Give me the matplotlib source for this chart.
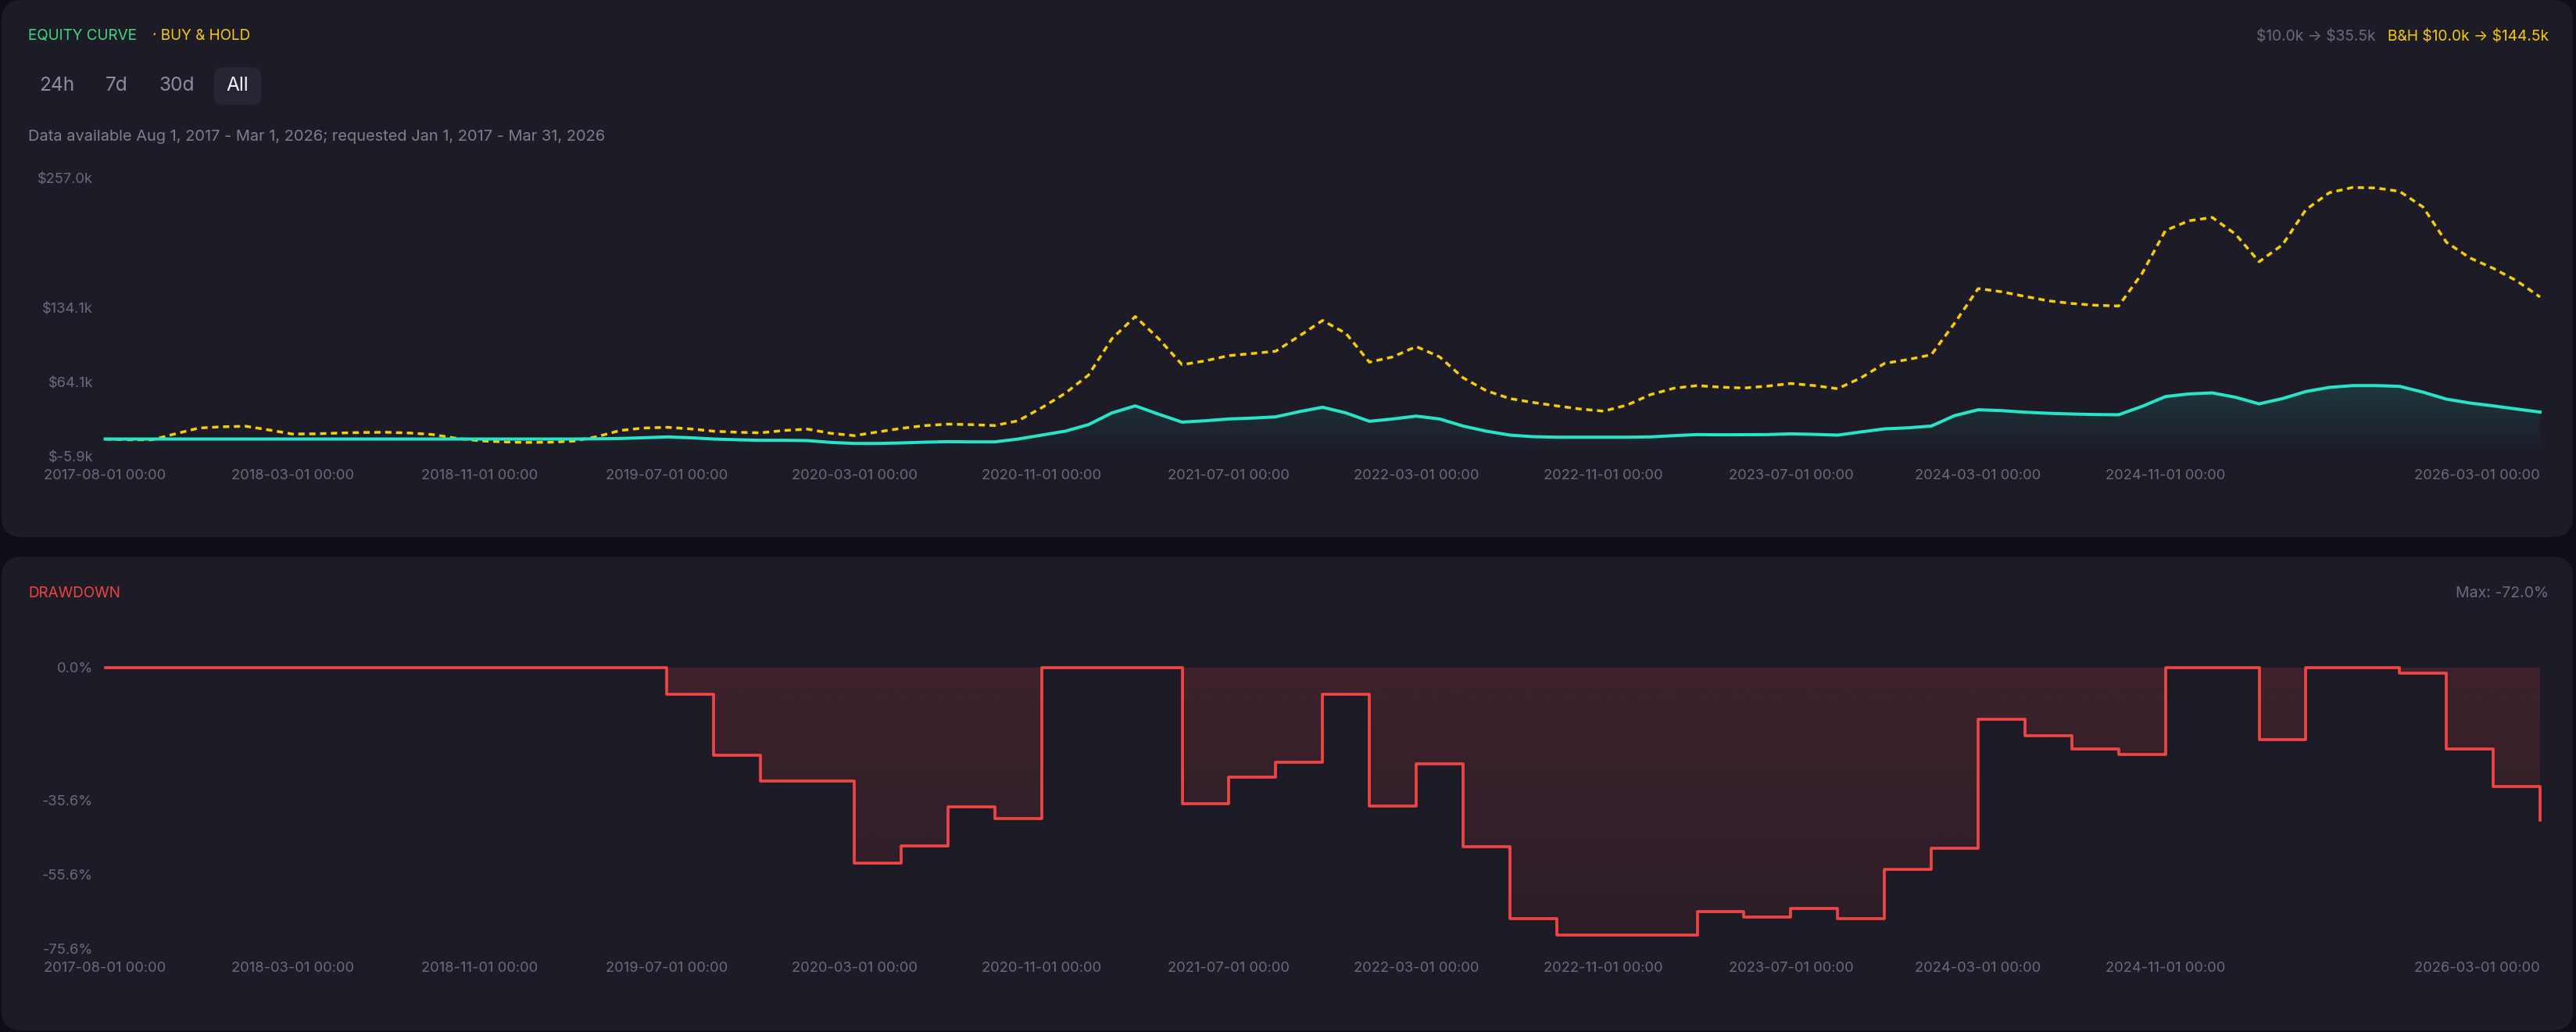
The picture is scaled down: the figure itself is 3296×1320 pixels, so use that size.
# Equity curve vs buy & hold, with drawdown panel (dark dashboard look)

import numpy as np
import matplotlib
matplotlib.use('Agg')
import matplotlib.pyplot as plt
from matplotlib.patches import FancyBboxPatch
from matplotlib.colors import to_rgb

# Chart values (one point per bar on the time axis, 105 bars)
equity = [10.0] * 21 + [
    10.2, 10.5, 11.2, 12.0, 11.2, 10.0, 9.3, 8.8, 8.8, 8.5,
    6.8, 5.8, 5.8, 6.3, 7.0, 7.5, 7.3, 7.3, 10.0, 13.7,
    17.4, 23.6, 34.7, 41.4, 33.5, 26.0, 27.3, 29.0, 29.8, 31.0,
    35.9, 40.1, 34.7, 26.8, 29.0, 31.7, 29.0, 22.3, 17.4, 13.7,
    12.2, 11.7, 11.7, 11.7, 11.7, 12.0, 13.2, 14.2, 14.0, 14.1,
    14.2, 14.9, 14.4, 13.7, 16.7, 19.6, 20.6, 22.3, 32.2, 37.7,
    36.9, 35.4, 34.4, 33.7, 33.2, 33.0, 40.9, 50.2, 52.7, 53.7,
    49.5, 43.3, 48.3, 55.0, 58.9, 60.6, 60.6, 59.9, 54.4, 47.8,
    44.1, 41.4, 38.4, 35.5]

buy_hold = [
    10.0, 9.3, 9.3, 14.9, 20.4, 21.6, 22.1, 18.6, 14.7, 14.9,
    15.7, 16.2, 16.4, 15.7, 14.2, 10.7, 8.3, 7.3, 6.8, 7.0,
    8.0, 12.2, 18.1, 20.4, 21.1, 19.6, 17.4, 16.4, 15.9, 18.1,
    19.4, 15.4, 13.2, 16.7, 20.1, 22.7, 24.1, 23.6, 22.8, 27.3,
    39.6, 53.2, 70.5, 105.0, 126.0, 105.0, 80.4, 84.1, 89.0, 91.0,
    93.2, 107.5, 122.3, 110.0, 82.8, 87.8, 97.6, 87.8, 68.0, 55.7,
    48.3, 44.6, 41.4, 38.4, 36.4, 42.1, 52.0, 58.1, 60.6, 59.1,
    58.3, 60.1, 62.6, 60.6, 57.7, 68.0, 81.6, 85.3, 89.8, 119.9,
    152.5, 149.5, 145.1, 140.9, 138.4, 136.7, 136.0, 166.8, 207.5, 216.7,
    219.9, 203.9, 177.9, 194.0, 227.3, 243.3, 248.3, 247.8, 244.6, 229.8,
    196.4, 181.6, 171.7, 159.9, 144.5]

# drawdown is sampled on every second bar
drawdown = [0.0] * 12 + [
    -7.2, -23.6, -30.6, -30.6, -52.6, -48.0, -37.5, -40.6, 0.0, 0.0,
    0.0, -36.7, -29.5, -25.5, -7.2, -37.3, -25.9, -48.2, -67.6, -72.0,
    -72.0, -72.0, -65.7, -67.2, -64.8, -67.6, -54.4, -48.6, -13.8, -18.4,
    -21.8, -23.4, 0.0, 0.0, -19.4, 0.0, 0.0, -1.4, -21.9, -32.0,
    -41.0]

tick_bars = [0, 8, 16, 24, 32, 40, 48, 56, 64, 72, 80, 88, 104]
tick_labels = ['2017-08-01 00:00', '2018-03-01 00:00', '2018-11-01 00:00',
               '2019-07-01 00:00', '2020-03-01 00:00', '2020-11-01 00:00',
               '2021-07-01 00:00', '2022-03-01 00:00', '2022-11-01 00:00',
               '2023-07-01 00:00', '2024-03-01 00:00', '2024-11-01 00:00',
               '2026-03-01 00:00']
eq_ticks = [-5.9, 64.1, 134.1, 257.0]
eq_tick_labels = [r'\$-5.9k', r'\$64.1k', r'\$134.1k', r'\$257.0k']
dd_ticks = [-75.6, -55.6, -35.6, 0.0]
dd_tick_labels = ['-75.6%', '-55.6%', '-35.6%', '0.0%']

# Colours
BG = '#0f0e17'
PANEL = '#1c1b26'
CYAN = '#27e3c8'
YELLOW = '#f7cd07'
RED = '#ef4444'
GREEN = '#3ddc84'
MUTED = '#6c6b7e'
TEXT2 = '#7f7e91'

plt.rcParams['font.family'] = ['Inter', 'DejaVu Sans']

W, H = 3296, 1320
DPI = 200
fig = plt.figure(figsize=(W / DPI, H / DPI), dpi=DPI, facecolor=BG)

# Background layer in pixel coordinates for panels and header texts
bg = fig.add_axes([0, 0, 1, 1], zorder=-10)
bg.set_xlim(0, W)
bg.set_ylim(H, 0)
bg.axis('off')

bg.add_patch(FancyBboxPatch((2, 0), 3290, 687, boxstyle='round,pad=0,rounding_size=26',
                            facecolor=PANEL, edgecolor='none'))
bg.add_patch(FancyBboxPatch((2, 712), 3290, 606, boxstyle='round,pad=0,rounding_size=26',
                            facecolor=PANEL, edgecolor='none'))

bg.text(36, 46, 'EQUITY CURVE', color=GREEN, fontsize=6.8, va='center', ha='left')
bg.text(195, 46, '· BUY & HOLD', color=YELLOW, fontsize=6.8, va='center', ha='left')
bh = bg.text(3261, 47, r'B&H \$10.0k → \$144.5k', color=YELLOW, fontsize=6.9,
             va='center', ha='right')
bg.annotate(r'\$10.0k → \$35.5k', xy=(0, 0.5), xycoords=bh, xytext=(-5.5, 0),
            textcoords='offset points', color=MUTED, fontsize=6.9, va='center', ha='right')

# Range buttons
bg.add_patch(FancyBboxPatch((274, 86), 60, 48, boxstyle='round,pad=0,rounding_size=10',
                            facecolor='#262532', edgecolor='none'))
for label, xc, col in [('24h', 73, '#8e8da0'), ('7d', 149, '#8e8da0'),
                       ('30d', 226, '#8e8da0'), ('All', 304, '#f2f2f7')]:
    bg.text(xc, 110, label, color=col, fontsize=8.8, va='center', ha='center')

bg.text(36, 175, 'Data available Aug 1, 2017 - Mar 1, 2026; requested Jan 1, 2017 - Mar 31, 2026',
        color=TEXT2, fontsize=7.2, va='center', ha='left')

bg.text(36, 759, 'DRAWDOWN', color=RED, fontsize=6.8, va='center', ha='left')
bg.text(3261, 759, 'Max: -72.0%', color=MUTED, fontsize=7.0, va='center', ha='right')


def px_axes(left, right, top, bottom):
    return fig.add_axes([left / W, 1 - bottom / H, (right - left) / W, (bottom - top) / H])


def style_axes(ax):
    ax.set_facecolor('none')
    for s in ax.spines.values():
        s.set_visible(False)
    ax.tick_params(length=0, colors=MUTED, labelsize=6.6)
    ax.tick_params(axis='x', pad=6)
    ax.tick_params(axis='y', pad=5.5)
    ax.set_xticks(tick_bars)
    ax.set_xticklabels(tick_labels)
    ax.get_xticklabels()[-1].set_horizontalalignment('right')


# Equity panel
bars = np.arange(len(equity))
ax1 = px_axes(134.5, 3250, 228, 583)
style_axes(ax1)

fill = ax1.fill_between(bars, equity, -5.9, facecolor='none', edgecolor='none')
yy = np.linspace(-5.9, 257.0, 300)
alpha = np.clip((yy + 5.9) / 66.0, 0, 1) * 0.15
grad = np.zeros((len(yy), 2, 4))
grad[..., :3] = to_rgb(CYAN)
grad[..., 3] = alpha[:, None]
im = ax1.imshow(grad, extent=[0, len(equity) - 1, -5.9, 257.0], origin='lower',
                aspect='auto', interpolation='bilinear', zorder=1)
im.set_clip_path(fill.get_paths()[0], transform=ax1.transData)

ax1.plot(bars, buy_hold, color=YELLOW, lw=1.25, linestyle=(0, (2.3, 1.7)),
         dash_capstyle='butt', solid_joinstyle='round', zorder=3, clip_on=False)
ax1.plot(bars, equity, color=CYAN, lw=1.45, solid_joinstyle='round', zorder=4, clip_on=False)

ax1.set_xlim(0, len(equity) - 1)
ax1.set_ylim(-5.9, 257.0)
ax1.set_yticks(eq_ticks)
ax1.set_yticklabels(eq_tick_labels)

# Drawdown panel
dd_bars = np.arange(0, len(equity), 2)
ax2 = px_axes(134.5, 3250, 854, 1213)
style_axes(ax2)

dfill = ax2.fill_between(dd_bars, drawdown, 0, step='post', facecolor='none', edgecolor='none')
yy = np.linspace(-75.6, 0, 300)
alpha = 0.065 + 0.095 * (yy + 75.6) / 75.6
grad = np.zeros((len(yy), 2, 4))
grad[..., :3] = to_rgb(RED)
grad[..., 3] = alpha[:, None]
im2 = ax2.imshow(grad, extent=[0, len(equity) - 1, -75.6, 0], origin='lower',
                 aspect='auto', interpolation='bilinear', zorder=1)
im2.set_clip_path(dfill.get_paths()[0], transform=ax2.transData)

ax2.step(dd_bars, drawdown, where='post', color=RED, lw=1.35, zorder=3, clip_on=False)

ax2.set_xlim(0, len(equity) - 1)
ax2.set_ylim(-75.6, 0)
ax2.set_yticks(dd_ticks)
ax2.set_yticklabels(dd_tick_labels)

fig.savefig('out.png', dpi=DPI, facecolor=BG)
